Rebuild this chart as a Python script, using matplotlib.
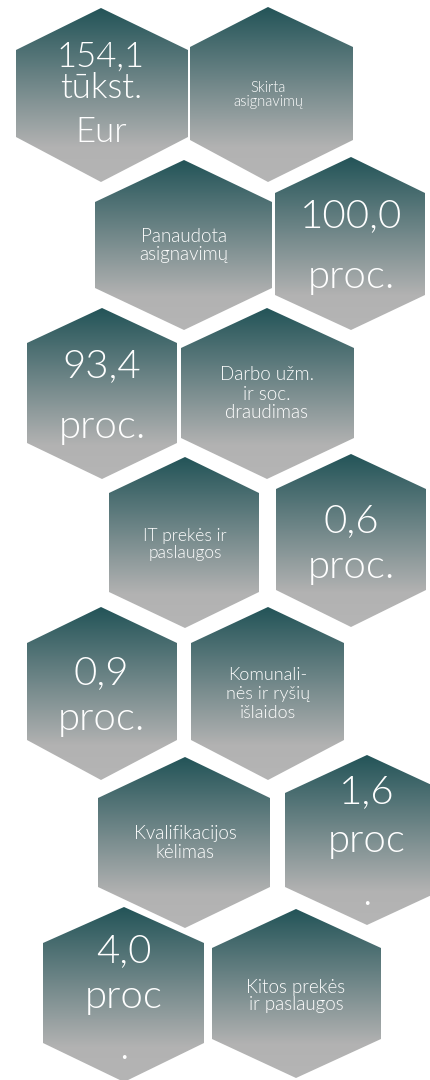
import numpy as np
import matplotlib
matplotlib.use("Agg")
import matplotlib.pyplot as plt
from matplotlib.patches import Polygon
from matplotlib.colors import LinearSegmentedColormap

# ---------------- data ----------------
value_lines = [
    ["154,1", "tūkst.", "Eur"],
    ["100,0", "proc."],
    ["93,4", "proc."],
    ["0,6", "proc."],
    ["0,9", "proc."],
    ["1,6", "proc", "."],
    ["4,0", "proc", "."],
]
category_lines = [
    ["Skirta", "asignavimų"],
    ["Panaudota", "asignavimų"],
    ["Darbo užm.", "ir soc.", "draudimas"],
    ["IT prekės ir", "paslaugos"],
    ["Komunali-", "nės ir ryšių", "išlaidos"],
    ["Kvalifikacijos", "kėlimas"],
    ["Kitos prekės", "ir paslaugos"],
]

# ---------------- layout (pixel coords, y downward) ----------------
# (kind, index, cx, left, right, top, side_top, side_bottom, bottom, fontsize, baselines)
layout = [
    ("v", 0, 101, 16, 188, 8, 50, 137, 182, 25, [67, 98, 142]),
    ("c", 0, 268, 190, 353, 7, 47, 140, 182, 10.5, [92, 106]),
    ("c", 1, 184, 95, 272, 160, 202, 288, 330, 13.5, [242, 260]),
    ("v", 1, 351, 275, 425, 157, 193, 295, 330, 29, [227, 288]),
    ("v", 2, 102, 27, 177, 308, 343, 443, 479, 29, [377, 438]),
    ("c", 2, 267, 181, 354, 308, 348, 438, 479, 13.5, [380, 400, 418]),
    ("c", 3, 185, 109, 259, 457, 493, 592, 628, 12.5, [541, 558]),
    ("v", 3, 351, 276, 426, 454, 489, 590, 627, 29, [532, 578]),
    ("v", 4, 101, 27, 177, 607, 643, 740, 780, 29, [684, 730]),
    ("c", 4, 268, 191, 344, 607, 643, 740, 780, 13, [680, 699, 718]),
    ("c", 5, 185, 98, 270, 757, 798, 887, 928, 13.5, [839, 858]),
    ("v", 5, 367, 285, 449, 755, 793, 887, 925, 29, [803, 852, 905]),
    ("v", 6, 124, 43, 204, 907, 943, 1043, 1082, 29, [962, 1008, 1059]),
    ("c", 6, 296, 212, 381, 909, 948, 1039, 1078, 13.5, [993, 1010]),
]

W, H = 431, 1080
fig = plt.figure(figsize=(W / 100, H / 100), dpi=100)
ax = fig.add_axes([0, 0, 1, 1])
ax.set_xlim(0, W)
ax.set_ylim(H, 0)
ax.axis("off")

cmap = LinearSegmentedColormap.from_list(
    "hexgrad", [(0.0, "#235458"), (0.8, "#b2b2b2"), (1.0, "#b5b5b5")]
)
grad = np.linspace(0, 1, 256).reshape(-1, 1)

FONT = ["Lato", "DejaVu Sans"]

for kind, idx, cx, l, r, top, s1, s2, bot, fs, bases in layout:
    pts = [(cx, top), (r, s1), (r, s2), (cx, bot), (l, s2), (l, s1)]
    poly = Polygon(pts, closed=True, facecolor="none", edgecolor="none")
    ax.add_patch(poly)
    im = ax.imshow(grad, cmap=cmap, aspect="auto",
                   extent=(l, r, bot, top), origin="upper",
                   interpolation="bilinear", zorder=1)
    im.set_clip_path(poly)
    lines = value_lines[idx] if kind == "v" else category_lines[idx]
    for line, yb in zip(lines, bases):
        ax.text(cx, yb, line, ha="center", va="baseline", color="white",
                fontsize=fs, family=FONT, fontweight=300, zorder=3)

ax.set_xlim(0, W)
ax.set_ylim(H, 0)
fig.savefig("out.png", dpi=100, facecolor="white")
